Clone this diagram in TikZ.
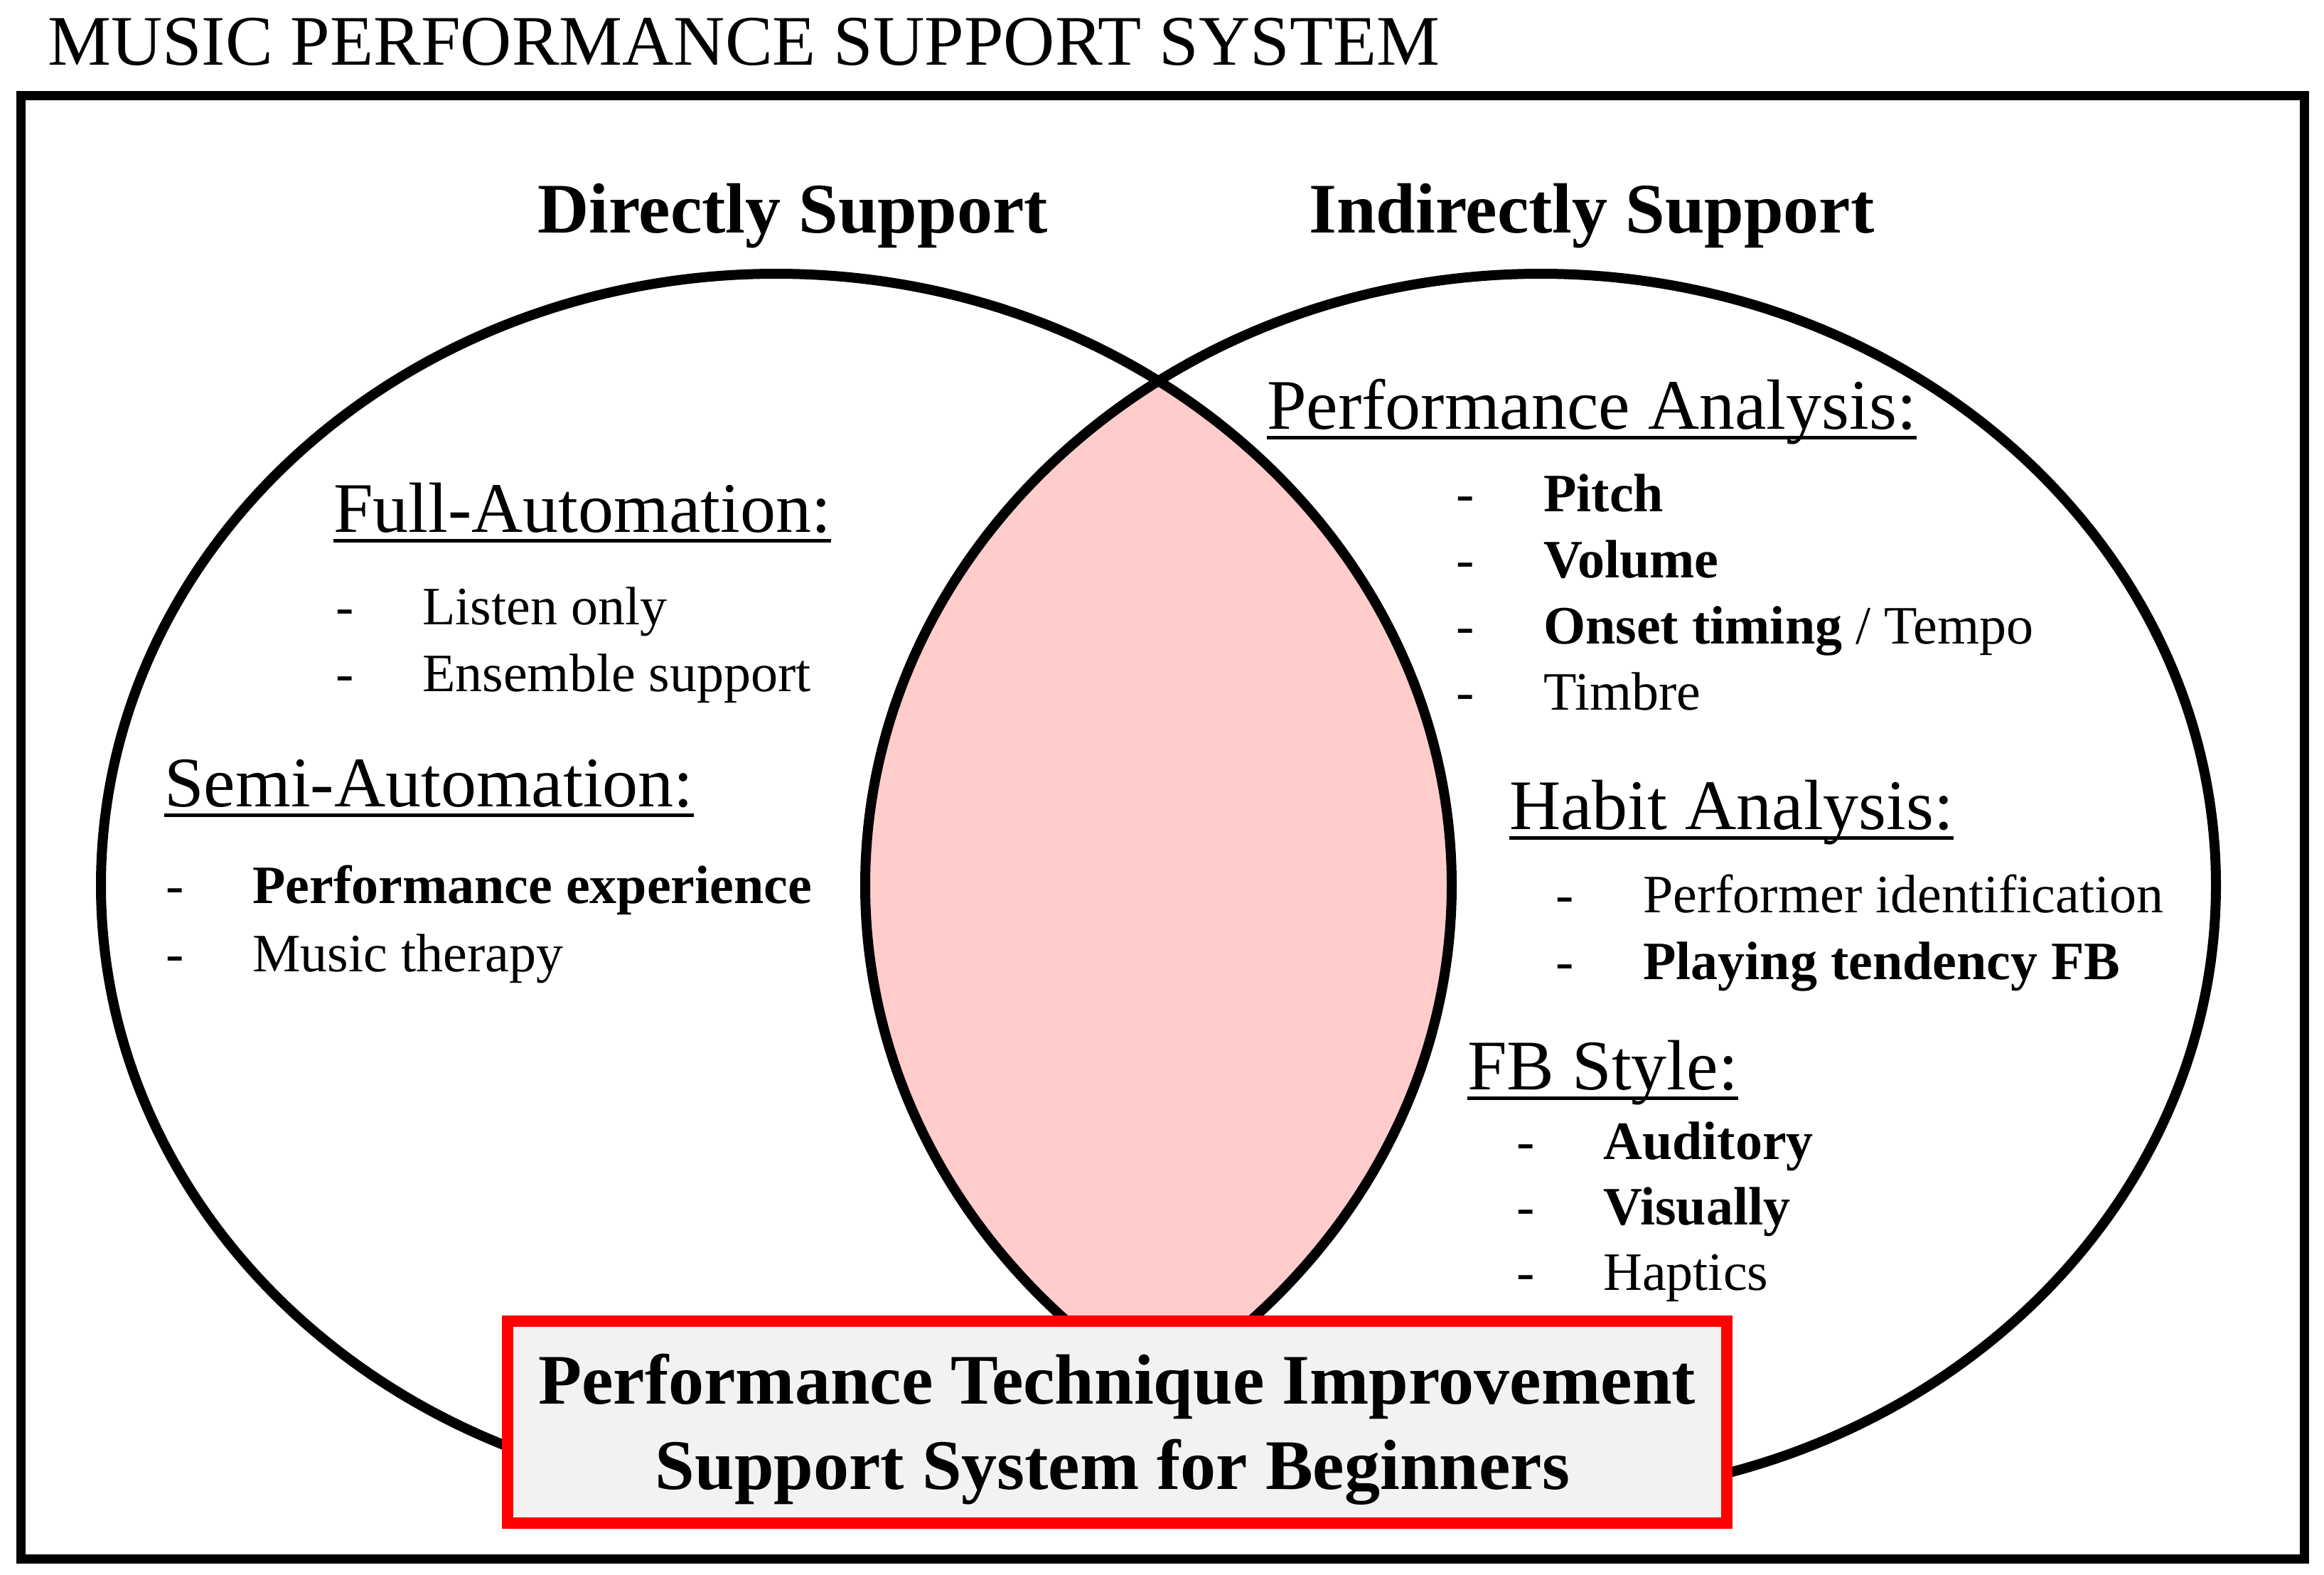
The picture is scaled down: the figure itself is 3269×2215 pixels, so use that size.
\documentclass[tikz,border=0pt]{standalone}
\usepackage{fontspec}
\setmainfont{Liberation Serif}
\definecolor{lenspink}{HTML}{FFCCCC}
\definecolor{boxgray}{HTML}{F2F2F2}
\newcommand\ulnode[1]{\draw[ulline] ([yshift=-12pt]#1.base west) -- ([yshift=-12pt]#1.base east);}
\begin{document}
\begin{tikzpicture}[x=1pt,y=-1pt,
  txt/.style={anchor=base west, inner sep=0pt, font=\fontsize{76}{90}\selectfont},
  bld/.style={anchor=base west, inner sep=0pt, font=\fontsize{76}{90}\selectfont\bfseries},
  head/.style={anchor=base west, inner sep=0pt, font=\fontsize{100}{120}\selectfont},
  suphead/.style={anchor=base west, inner sep=0pt, font=\fontsize{100}{120}\selectfont\bfseries},
  boxtxt/.style={anchor=base, inner sep=0pt, font=\fontsize{100}{120}\selectfont\bfseries},
  ulline/.style={line width=5pt},
  venn/.style={line width=14pt},
  frameline/.style={line width=13pt},
  target/.style={draw=red, line width=16pt, fill=boxgray, minimum width=1715pt, minimum height=284pt, inner sep=0pt},
]
\useasboundingbox (0,0) rectangle (3269,2215);
\fill[white] (0,0) rectangle (3269,2215);
% lens
\coordinate (cl) at (1092,1245);
\coordinate (cr) at (2167,1245);
\begin{scope}
  \clip (cl) ellipse [x radius=950pt, y radius=860pt];
  \fill[lenspink] (cr) ellipse [x radius=950pt, y radius=860pt];
\end{scope}
\draw[venn] (cl) ellipse [x radius=950pt, y radius=860pt];
\draw[venn] (cr) ellipse [x radius=950pt, y radius=860pt];
% frame
\draw[frameline] (29,135) rectangle (3241,2192);
% title
\node[head] (title) at (67,92) {MUSIC PERFORMANCE SUPPORT SYSTEM};
% set titles
\node[suphead] (direct) at (756,328) {Directly Support};
\node[suphead] (indirect) at (1841,328) {Indirectly Support};
% left block
\node[head] (full) at (469,748) {Full-Automation:};
\ulnode{full}
\node[txt] (d1) at (472,878) {-};
\node[txt] (listen) at (594,878) {Listen only};
\node[txt] (d2) at (472,972) {-};
\node[txt] (ensemble) at (594,972) {Ensemble support};
\node[head] (semi) at (231,1134) {Semi-Automation:};
\ulnode{semi}
\node[txt] (d3) at (233,1270) {-};
\node[bld] (perfexp) at (355,1270) {Performance experience};
\node[txt] (d4) at (233,1366) {-};
\node[txt] (therapy) at (355,1366) {Music therapy};
% right block
\node[head] (pa) at (1782,603) {Performance Analysis:};
\ulnode{pa}
\node[txt] (d5) at (2048,719) {-};
\node[bld] (pitch) at (2171,719) {Pitch};
\node[txt] (d6) at (2048,812) {-};
\node[bld] (volume) at (2171,812) {Volume};
\node[txt] (d7) at (2048,905) {-};
\node[bld] (onset) at (2171,905) {Onset timing\mdseries{} / Tempo};
\node[txt] (d8) at (2048,998) {-};
\node[txt] (timbre) at (2171,998) {Timbre};
\node[head] (habit) at (2123,1166) {Habit Analysis:};
\ulnode{habit}
\node[txt] (d9) at (2188,1283) {-};
\node[txt] (performer) at (2311,1283) {Performer identification};
\node[txt] (d10) at (2188,1377) {-};
\node[bld] (playing) at (2311,1377) {Playing tendency FB};
\node[head] (fb) at (2064,1532) {FB Style:};
\ulnode{fb}
\node[txt] (d11) at (2133,1630) {-};
\node[bld] (auditory) at (2255,1630) {Auditory};
\node[txt] (d12) at (2133,1722) {-};
\node[bld] (visually) at (2255,1722) {Visually};
\node[txt] (d13) at (2133,1814) {-};
\node[txt] (haptics) at (2255,1814) {Haptics};
% target box
\node[target] (goal) at (1571.5,2000) {};
\node[boxtxt] (goal1) at (1571,1974) {Performance Technique Improvement};
\node[boxtxt] (goal2) at (1565,2094) {Support System for Beginners};
\end{tikzpicture}
\end{document}
